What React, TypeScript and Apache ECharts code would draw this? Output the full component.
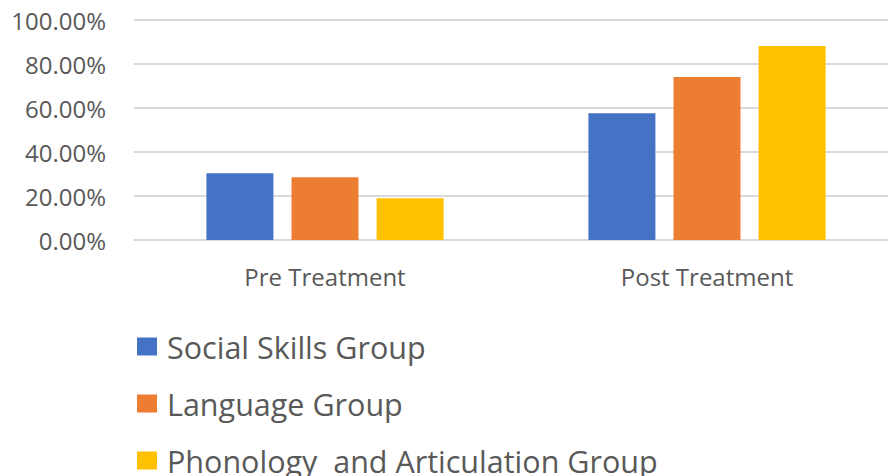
import React, { useEffect, useRef } from "react";
import * as echarts from "echarts";

const categories = ["Pre Treatment", "Post Treatment"];
const seriesNames = ["Social Skills Group", "Language Group", "Phonology  and Articulation Group"];
const socialSkills = [30.3, 57.6];
const language = [28.5, 74.1];
const phonology = [19.0, 88.2];
const colors = ["#4472C4", "#ED7D31", "#FFC000"];

export default function App() {
  const ref = useRef<HTMLDivElement>(null);
  useEffect(() => {
    if (!ref.current) return;
    const chart = echarts.init(ref.current, null, { renderer: "svg" });
    const font = "'Open Sans', sans-serif";
    const values = [socialSkills, language, phonology];
    chart.setOption({
      animation: false,
      color: colors,
      textStyle: { fontFamily: font },
      grid: { left: 134, width: 764, top: 20, bottom: 236, containLabel: false, outerBoundsMode: "none" },
      legend: {
        orient: "vertical",
        left: 137,
        top: 331,
        padding: 0,
        height: 160,
        itemWidth: 20,
        itemHeight: 18,
        itemGap: 26,
        icon: "rect",
        data: seriesNames,
        textStyle: { fontSize: 30.5, color: "#595959", fontFamily: font, lineHeight: 30, padding: [0, 0, 0, 5] },
      },
      xAxis: {
        type: "category",
        data: categories,
        axisLine: { lineStyle: { color: "#d9d9d9", width: 2 } },
        axisTick: { show: false },
        axisLabel: { fontSize: 24, color: "#595959", margin: 24, fontFamily: font },
      },
      yAxis: {
        type: "value",
        min: 0,
        max: 100,
        interval: 20,
        axisLine: { show: false },
        axisTick: { show: false },
        splitLine: { lineStyle: { color: "#d9d9d9", width: 2 } },
        axisLabel: {
          fontSize: 24,
          color: "#595959",
          margin: 28,
          fontFamily: font,
          formatter: (v: number) => v.toFixed(2) + "%",
        },
      },
      series: seriesNames.map((name, i) => ({
        name,
        type: "bar",
        data: values[i],
        barWidth: 67,
        barGap: "27%",
        itemStyle: { color: colors[i] },
      })),
    });
    return () => chart.dispose();
  }, []);
  return <div ref={ref} style={{ width: 888, height: 476, position: "absolute", left: 0, top: 0 }} />;
}
